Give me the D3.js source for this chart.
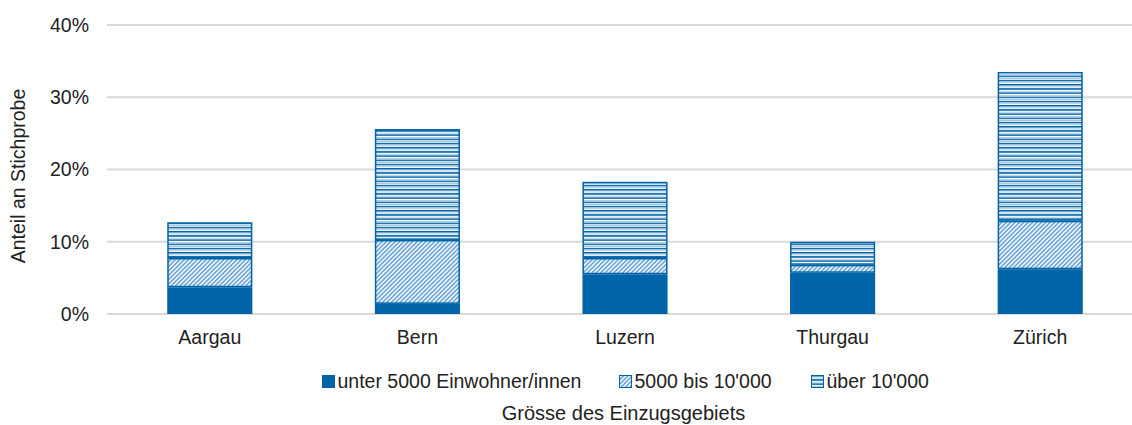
<!DOCTYPE html>
<html>
<head>
<meta charset="utf-8">
<script src="https://cdn.jsdelivr.net/npm/d3@7"></script>
<style>
  body { margin: 0; background: #fff; }
  text { font-family: "Liberation Sans", Arial, sans-serif; fill: #222; }
</style>
</head>
<body>
<div id="chart"></div>
<script>
// data (percent of sample)
const regions = ['Aargau', 'Bern', 'Luzern', 'Thurgau', 'Zürich'];
const seriesNames = ['unter 5000 Einwohner/innen', '5000 bis 10\'000', 'über 10\'000'];
const under5000 = [3.7, 1.4, 5.5, 5.7, 6.2];
const from5000to10000 = [4.05, 8.85, 2.25, 1.1, 6.7];
const over10000 = [4.95, 15.35, 10.55, 3.2, 20.6];
const yTicks = [0, 10, 20, 30, 40];

const width = 1132, height = 425;
const blue = '#0064a8';
const fontSize = '19.5px';

const svg = d3.select('#chart').append('svg')
    .attr('width', width)
    .attr('height', height);

const defs = svg.append('defs');

// fine diagonal hatch
const diag = defs.append('pattern')
    .attr('id', 'diag')
    .attr('patternUnits', 'userSpaceOnUse')
    .attr('width', 3.1).attr('height', 3.1)
    .attr('patternTransform', 'rotate(45)');
diag.append('rect').attr('width', 3.1).attr('height', 3.1).attr('fill', '#eef4fa');
diag.append('rect').attr('width', 1.5).attr('height', 3.1).attr('fill', '#6aa5d8');

// horizontal stripes
const horiz = defs.append('pattern')
    .attr('id', 'horiz')
    .attr('patternUnits', 'userSpaceOnUse')
    .attr('width', 4.2).attr('height', 4.2);
horiz.append('rect').attr('width', 4.2).attr('height', 4.2).attr('fill', '#ffffff');
horiz.append('rect').attr('y', 0).attr('width', 4.2).attr('height', 1.5).attr('fill', blue);
horiz.append('rect').attr('y', 2.5).attr('width', 4.2).attr('height', 0.9).attr('fill', '#9fc2df');

const fills = [blue, 'url(#diag)', 'url(#horiz)'];

const x = d3.scaleBand().domain(regions).range([106, 1144]).paddingInner(0.59).paddingOuter(0.295);
const y = d3.scaleLinear().domain([0, 40]).range([314, 25]);

// gridlines
svg.append('g')
    .selectAll('line')
    .data(yTicks)
    .enter().append('line')
    .attr('x1', 107).attr('x2', width)
    .attr('y1', d => y(d)).attr('y2', d => y(d))
    .attr('stroke', '#d9d9d9')
    .attr('stroke-width', 2);

// y axis labels
const yAxis = svg.append('g')
    .attr('transform', 'translate(89,0)')
    .call(d3.axisLeft(y).tickValues(yTicks).tickSize(0).tickPadding(0).tickFormat(d => d + '%'));
yAxis.select('.domain').remove();
yAxis.selectAll('text')
    .style('font-size', fontSize)
    .style('font-family', '"Liberation Sans", Arial, sans-serif')
    .attr('fill', '#333');

// x axis labels
const xAxis = svg.append('g')
    .attr('transform', 'translate(0,314)')
    .call(d3.axisBottom(x).tickSize(0).tickPadding(16));
xAxis.select('.domain').remove();
xAxis.selectAll('text')
    .style('font-size', fontSize)
    .style('font-family', '"Liberation Sans", Arial, sans-serif')
    .attr('fill', '#222');

// stacked bars
const rows = regions.map((r, i) => ({
    region: r,
    s0: under5000[i], s1: from5000to10000[i], s2: over10000[i]
}));
const stack = d3.stack().keys(['s0', 's1', 's2'])(rows);

const layers = svg.selectAll('.layer')
    .data(stack)
    .enter().append('g')
    .attr('class', 'layer');

layers.selectAll('rect')
    .data((d, i) => d.map(v => ({v: v, i: i})))
    .enter().append('rect')
    .attr('x', d => x(d.v.data.region) + 0.75)
    .attr('width', x.bandwidth() - 1.5)
    .attr('y', d => y(d.v[1]) + 0.75)
    .attr('height', d => Math.max(0, y(d.v[0]) - y(d.v[1]) - 1.5))
    .attr('fill', d => fills[d.i])
    .attr('stroke', blue)
    .attr('stroke-width', 1.5);

// legend
const legendPos = [322, 619, 811];
const legend = svg.append('g')
    .selectAll('g')
    .data(seriesNames)
    .enter().append('g')
    .attr('transform', (d, i) => 'translate(' + legendPos[i] + ',375)');
legend.append('rect')
    .attr('x', 0.5).attr('y', 0.5)
    .attr('width', 12).attr('height', 12)
    .attr('fill', (d, i) => fills[i])
    .attr('stroke', blue)
    .attr('stroke-width', 1);
legend.append('text')
    .attr('x', 15.5)
    .attr('y', 13)
    .style('font-size', fontSize)
    .text(d => d);

// axis titles
svg.append('text')
    .attr('x', 623.5)
    .attr('y', 420)
    .attr('text-anchor', 'middle')
    .style('font-size', '20px')
    .text('Grösse des Einzugsgebiets');

svg.append('text')
    .attr('transform', 'translate(25,176) rotate(-90)')
    .attr('text-anchor', 'middle')
    .style('font-size', fontSize)
    .text('Anteil an Stichprobe');
</script>
</body>
</html>
